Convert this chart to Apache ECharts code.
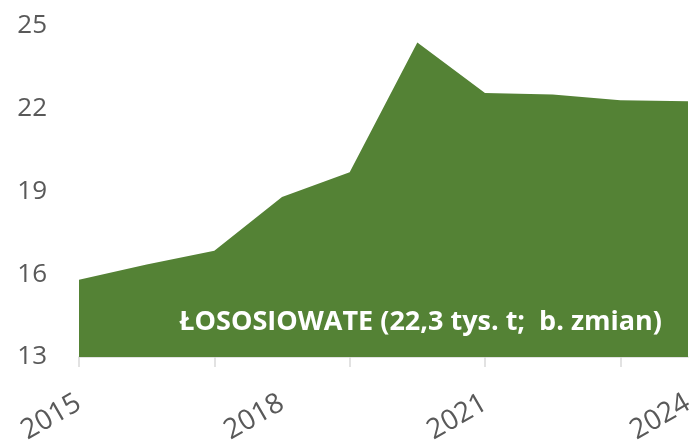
<!DOCTYPE html>
<html>
<head>
<meta charset="utf-8">
<script src="https://cdn.jsdelivr.net/npm/echarts@6/dist/echarts.min.js"></script>
<style>
  html, body { margin: 0; padding: 0; background: #fff; }
  #main { width: 692px; height: 446px; }
</style>
</head>
<body>
<div id="main"></div>
<script>
// lata i wartości (tys. t)
var years = ["2015", "2016", "2017", "2018", "2019", "2020", "2021", "2022", "2023", "2024"];
var values = [15.8, 16.35, 16.85, 18.8, 19.7, 24.4, 22.57, 22.52, 22.31, 22.27];
var yTicks = { min: 13, max: 25, step: 3 };
var label = "ŁOSOSIOWATE (22,3 tys. t;  b. zmian)";

var chart = echarts.init(document.getElementById("main"));

var option = {
  animation: false,
  grid: { left: 79, right: 4, top: 26, bottom: 89, outerBoundsMode: "none" },
  xAxis: {
    type: "category",
    data: years,
    boundaryGap: false,
    axisLine: { lineStyle: { color: "#d9d9d9", width: 1.5 } },
    axisTick: { interval: 1, length: 10, lineStyle: { color: "#d9d9d9", width: 1.5 } },
    axisLabel: {
      interval: 2,
      rotate: 30,
      margin: 44,
      fontSize: 28,
      color: "#595959",
      fontFamily: "Open Sans"
    }
  },
  yAxis: {
    type: "value",
    min: yTicks.min,
    max: yTicks.max,
    interval: yTicks.step,
    splitLine: { show: false },
    axisLine: { show: false },
    axisTick: { show: false },
    axisLabel: {
      fontSize: 26,
      color: "#595959",
      fontFamily: "Open Sans",
      align: "right",
      margin: 32
    }
  },
  series: [
    {
      type: "line",
      data: values,
      symbol: "none",
      lineStyle: { width: 0 },
      areaStyle: { color: "#548235", opacity: 1, origin: "start" }
    }
  ],
  graphic: [
    {
      type: "text",
      z: 100,
      right: 30,
      top: 309,
      style: {
        text: label,
        fill: "#ffffff",
        fontSize: 27,
        fontWeight: "bold",
        fontFamily: "Open Sans"
      }
    }
  ]
};

chart.setOption(option);
</script>
</body>
</html>
